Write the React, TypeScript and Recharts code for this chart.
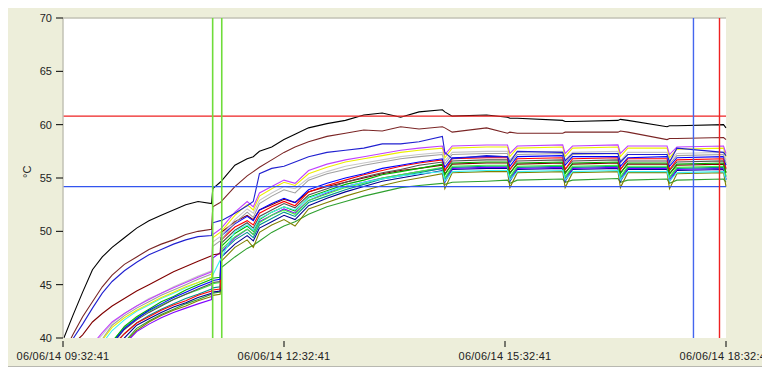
import React from "react";
import { LineChart, Line, XAxis, YAxis, CartesianGrid, ReferenceLine } from "recharts";

// minutes after 06/06/14 09:32:41
const TIMES = [
  0, 8, 16, 24, 32, 40, 50, 60, 70, 80, 90, 100, 110,
  121, 122, 128, 129,
  140, 150, 155, 160, 170, 180, 189,
  200, 215, 230, 245, 260, 275, 290,
  309, 311, 317, 345, 362, 364,
  370, 407, 409, 415,
  452, 454, 460, 492, 494, 500, 538, 540,
];

const X_TICKS = [0, 180, 360, 540];
const X_TICK_LABELS = ["06/06/14 09:32:41", "06/06/14 12:32:41", "06/06/14 15:32:41", "06/06/14 18:32:41"];
const Y_TICKS = [40, 45, 50, 55, 60, 65, 70];

const HIGH_LIMIT = 60.8;
const LOW_LIMIT = 54.2;
const GREEN_CURSORS = [121.9, 129.3];
const BLUE_CURSOR = 513.5;
const RED_CURSOR = 534.7;

const black = [
  39.8, 42.1, 44.3, 46.4, 47.6, 48.5, 49.4, 50.3, 51.0, 51.5, 52.0, 52.5, 52.8,
  52.6, 54.0, 54.6, 54.7,
  56.2, 56.8, 57.0, 57.5, 57.9, 58.6, 59.1,
  59.7, 60.1, 60.4, 60.9, 61.1, 60.7, 61.2,
  61.4, 61.2, 60.8, 60.9, 60.7, 60.6,
  60.6, 60.4, 60.3, 60.3,
  60.4, 60.5, 60.4, 59.8, 59.9, 59.9, 60.0, 59.7,
];
const brown = [
  38.5, 40.3, 42.0, 43.4, 44.8, 45.9, 46.9, 47.6, 48.3, 48.8, 49.2, 49.7, 50.0,
  50.2, 52.3, 52.7, 52.8,
  54.2, 55.2, 55.6, 56.0, 56.7, 57.4, 57.9,
  58.4, 58.9, 59.2, 59.5, 59.4, 59.8, 59.6,
  59.8, 59.7, 59.3, 59.7, 59.2, 59.3,
  59.2, 59.2, 59.3, 59.3,
  59.3, 59.4, 59.3, 58.6, 58.7, 58.7, 58.8, 58.6,
];
const blueTop = [
  37.5, 39.9, 41.3, 42.8, 44.2, 45.3, 46.3, 47.1, 47.8, 48.3, 48.8, 49.2, 49.5,
  49.6, 50.8, 51.0, 51.0,
  51.7, 52.4, 52.8, 55.4, 55.9, 56.1, 56.5,
  57.0, 57.4, 57.6, 57.8, 58.2, 58.2, 58.4,
  58.9, 57.4, 56.8, 57.1, 57.0, 56.5,
  57.5, 57.4, 56.6, 57.3,
  57.3, 56.5, 57.2, 57.2, 56.5, 57.8, 57.4, 57.1,
];
const violet = [
  37.0, 37.8, 38.6, 39.4, 40.5, 41.5, 42.3, 43.0, 43.6, 44.2, 44.7, 45.2, 45.7,
  46.2, 49.7, 50.2, 50.3,
  51.8, 52.8, 52.3, 53.6, 54.2, 54.8, 54.5,
  55.7, 56.3, 56.7, 57.0, 57.3, 57.6, 57.8,
  58.0, 57.2, 58.0, 58.1, 58.1, 57.3,
  58.0, 58.1, 57.3, 58.0,
  58.1, 57.3, 58.0, 58.0, 57.2, 57.9, 58.0, 57.3,
];
const yellow = [
  36.6, 37.4, 38.2, 39.0, 39.8, 41.0, 41.9, 42.6, 43.2, 43.8, 44.3, 44.8, 45.2,
  45.7, 49.4, 49.9, 50.0,
  51.5, 52.5, 52.0, 53.3, 54.0, 54.6, 54.3,
  55.4, 56.0, 56.5, 56.8, 57.1, 57.4, 57.6,
  57.8, 56.9, 57.8, 57.9, 57.9, 57.0,
  57.8, 57.9, 57.0, 57.8,
  57.9, 57.0, 57.8, 57.8, 56.9, 57.7, 57.8, 57.0,
];
const lightGray = [
  36.9, 37.7, 38.5, 39.3, 40.3, 41.4, 42.3, 43.0, 43.7, 44.2, 44.8, 45.3, 45.8,
  46.3, 49.0, 49.5, 49.6,
  51.1, 52.1, 51.7, 52.9, 53.6, 54.2, 54.0,
  55.0, 55.6, 56.1, 56.4, 56.7, 57.0, 57.2,
  57.4, 56.6, 57.4, 57.5, 57.5, 56.7,
  57.4, 57.5, 56.7, 57.4,
  57.5, 56.6, 57.4, 57.4, 56.6, 57.3, 57.4, 56.7,
];
const gray = [
  36.7, 37.5, 38.3, 39.1, 39.9, 41.2, 42.1, 42.8, 43.4, 44.0, 44.5, 45.0, 45.5,
  46.0, 48.6, 49.1, 49.2,
  50.8, 51.8, 51.3, 52.6, 53.3, 53.9, 53.6,
  54.8, 55.4, 55.8, 56.2, 56.5, 56.8, 57.0,
  57.2, 56.3, 57.2, 57.3, 57.3, 56.4,
  57.2, 57.3, 56.4, 57.2,
  57.3, 56.4, 57.2, 57.2, 56.3, 57.1, 57.2, 56.4,
];
const cyan = [
  36.3, 37.1, 37.9, 38.7, 39.5, 40.7, 41.7, 42.5, 43.1, 43.7, 44.2, 44.7, 45.2,
  45.7, 45.9, 47.3, 47.5,
  50.0, 50.6, 50.1, 51.2, 51.8, 52.3, 52.0,
  53.1, 53.7, 54.2, 54.6, 54.9, 55.2, 55.4,
  55.6, 54.7, 55.6, 55.7, 55.7, 54.8,
  55.6, 55.7, 54.8, 55.6,
  55.7, 54.8, 55.6, 55.6, 54.7, 55.5, 55.6, 54.8,
];
const blue = [
  35.5, 36.3, 37.1, 37.9, 38.7, 39.5, 40.9, 41.8, 42.6, 43.2, 43.8, 44.3, 44.8,
  45.3, 45.4, 45.5, 49.6,
  50.7, 51.4, 51.0, 52.0, 52.6, 53.1, 52.7,
  53.9, 54.5, 55.0, 55.4, 55.9, 56.2, 56.5,
  56.8, 56.0, 56.9, 57.0, 57.0, 56.1,
  57.0, 57.1, 56.2, 57.0,
  57.0, 56.1, 56.9, 57.0, 56.1, 56.9, 57.0, 56.2,
];
const red = [
  35.2, 36.0, 36.8, 37.6, 38.4, 39.2, 40.4, 41.4, 42.0, 42.6, 43.1, 43.5, 44.0,
  44.4, 44.5, 44.6, 49.2,
  50.4, 51.0, 50.6, 51.7, 52.3, 52.8, 52.4,
  53.7, 54.3, 54.8, 55.3, 55.7, 56.1, 56.4,
  56.7, 55.7, 56.8, 56.9, 56.9, 55.8,
  56.8, 56.9, 55.8, 56.8,
  56.9, 55.8, 56.8, 56.8, 55.8, 56.7, 56.8, 55.9,
];
const darkGray = [
  35.4, 36.2, 37.0, 37.8, 38.6, 39.4, 40.8, 41.7, 42.4, 43.0, 43.6, 44.1, 44.6,
  45.1, 45.2, 45.3, 48.9,
  50.1, 50.8, 50.3, 51.4, 52.0, 52.6, 52.2,
  53.4, 54.0, 54.6, 55.1, 55.5, 55.8, 56.2,
  56.5, 55.7, 56.6, 56.7, 56.7, 55.8,
  56.6, 56.7, 55.8, 56.6,
  56.7, 55.8, 56.6, 56.6, 55.7, 56.5, 56.6, 55.8,
];
const green = [
  35.6, 36.4, 37.2, 38.0, 38.8, 39.6, 41.1, 42.0, 42.7, 43.4, 43.9, 44.5, 45.0,
  45.5, 45.6, 45.7, 48.6,
  49.8, 50.5, 50.0, 51.1, 51.8, 52.3, 51.9,
  53.2, 53.8, 54.4, 54.8, 55.3, 55.6, 55.9,
  56.3, 55.3, 56.4, 56.5, 56.5, 55.4,
  56.4, 56.5, 55.4, 56.4,
  56.5, 55.4, 56.4, 56.4, 55.4, 56.3, 56.4, 55.5,
];
const maroon = [
  38.6, 39.4, 40.3, 41.5, 42.3, 43.0, 43.7, 44.4, 45.0, 45.6, 46.2, 46.7, 47.2,
  47.7, 47.8, 47.9, 49.9,
  50.9, 51.5, 51.1, 52.0, 52.5, 53.0, 52.7,
  53.7, 54.2, 54.6, 55.0, 55.4, 55.7, 55.9,
  56.2, 55.4, 56.3, 56.4, 56.4, 55.5,
  56.3, 56.4, 55.5, 56.3,
  56.4, 55.5, 56.3, 56.3, 55.4, 56.2, 56.3, 55.5,
];
const lightGreen = [
  35.7, 36.5, 37.3, 38.1, 38.9, 39.7, 41.0, 41.9, 42.5, 43.1, 43.6, 44.1, 44.5,
  45.0, 45.1, 45.2, 48.3,
  49.5, 50.2, 49.7, 50.8, 51.5, 52.0, 51.6,
  52.9, 53.5, 54.1, 54.5, 55.0, 55.3, 55.6,
  56.0, 55.0, 56.1, 56.2, 56.2, 55.1,
  56.1, 56.2, 55.1, 56.1,
  56.2, 55.1, 56.1, 56.1, 55.1, 56.0, 56.1, 55.2,
];
const teal = [
  35.2, 36.0, 36.8, 37.6, 38.4, 39.2, 40.4, 41.4, 42.1, 42.7, 43.2, 43.7, 44.1,
  44.6, 44.7, 44.8, 48.0,
  49.2, 49.9, 49.4, 50.6, 51.2, 51.8, 51.4,
  52.7, 53.3, 53.9, 54.4, 54.9, 55.2, 55.5,
  55.9, 54.9, 56.0, 56.1, 56.1, 55.0,
  56.0, 56.1, 55.0, 56.0,
  56.1, 55.0, 56.0, 56.0, 55.0, 55.9, 56.0, 55.1,
];
const purple = [
  34.4, 35.2, 36.0, 36.8, 37.6, 38.4, 39.4, 40.6, 41.3, 41.9, 42.4, 42.8, 43.2,
  43.6, 47.5, 48.0, 48.1,
  49.4, 50.2, 49.7, 50.9, 51.5, 52.1, 51.7,
  52.9, 53.6, 54.2, 54.6, 55.0, 55.3, 55.6,
  55.9, 54.7, 55.9, 56.0, 56.0, 54.8,
  55.9, 56.0, 54.8, 55.9,
  56.0, 54.8, 55.9, 55.9, 54.8, 55.8, 55.9, 54.9,
];
const navy = [
  35.0, 35.8, 36.6, 37.4, 38.2, 39.0, 40.0, 41.2, 41.8, 42.4, 42.9, 43.3, 43.8,
  44.2, 44.3, 44.4, 47.6,
  48.8, 49.6, 49.1, 50.3, 50.9, 51.5, 51.1,
  52.4, 53.1, 53.7, 54.2, 54.7, 55.0, 55.3,
  55.7, 54.6, 55.8, 55.9, 55.9, 54.7,
  55.8, 55.9, 54.7, 55.8,
  55.9, 54.7, 55.8, 55.8, 54.7, 55.7, 55.8, 54.8,
];
const olive = [
  34.5, 35.3, 36.1, 36.9, 37.7, 38.5, 39.5, 40.7, 41.5, 42.1, 42.6, 43.0, 43.5,
  43.9, 44.0, 44.1, 47.2,
  48.5, 49.2, 48.5, 49.9, 50.6, 51.1, 50.5,
  52.1, 52.7, 53.3, 53.8, 54.3, 54.7, 55.0,
  55.4, 54.0, 55.5, 55.6, 55.6, 54.1,
  55.5, 55.6, 54.1, 55.5,
  55.6, 54.1, 55.5, 55.5, 54.0, 55.4, 55.5, 54.2,
];
const darkGreen = [
  34.6, 35.4, 36.2, 37.0, 37.8, 38.6, 39.6, 40.9, 41.6, 42.2, 42.7, 43.2, 43.6,
  44.1, 44.2, 44.3, 46.6,
  47.6, 48.4, 48.7, 49.1, 49.9, 50.5, 50.9,
  51.6, 52.3, 52.8, 53.3, 53.7, 54.1, 54.3,
  54.5, 54.4, 54.6, 54.7, 54.8, 54.5,
  54.8, 54.9, 54.6, 54.8,
  54.95, 54.6, 54.8, 54.9, 54.5, 54.8, 54.9, 54.6,
];

// bottom of the stack first, the three upper probes last
const SERIES = [
  { key: "darkGreen", color: "#2fa02f", values: darkGreen },
  { key: "olive", color: "#808000", values: olive },
  { key: "navy", color: "#000090", values: navy },
  { key: "purple", color: "#8000ff", values: purple },
  { key: "teal", color: "#009090", values: teal },
  { key: "lightGreen", color: "#40f040", values: lightGreen },
  { key: "maroon", color: "#800000", values: maroon },
  { key: "green", color: "#00b000", values: green },
  { key: "darkGray", color: "#505050", values: darkGray },
  { key: "red", color: "#ff0000", values: red },
  { key: "blue", color: "#0000ff", values: blue },
  { key: "cyan", color: "#40f0f0", values: cyan },
  { key: "gray", color: "#a0a0a0", values: gray },
  { key: "lightGray", color: "#c8c8c8", values: lightGray },
  { key: "yellow", color: "#eeee00", values: yellow },
  { key: "violet", color: "#c040ff", values: violet },
  { key: "blueTop", color: "#2020d0", values: blueTop },
  { key: "brown", color: "#7a2525", values: brown },
  { key: "black", color: "#000000", values: black },
];

const rows = TIMES.map((t, i) => {
  const row: Record<string, number> = { t };
  SERIES.forEach((s) => {
    row[s.key] = s.values[i];
  });
  return row;
});

const FONT = "'Liberation Sans', Arial, sans-serif";

const TimeTick = ({ x, y, payload }: any) => {
  const label = X_TICK_LABELS[X_TICKS.indexOf(payload.value)];
  return (
    <g>
      <line x1={x} x2={x} y1={y - 6} y2={y} stroke="#000" />
      <text x={x} y={y + 13} textAnchor="middle" fontSize={11} fontFamily={FONT} fill="#222" letterSpacing={0.25}>
        {label}
      </text>
    </g>
  );
};

export default function App() {
  return (
    <div
      style={{
        position: "relative",
        left: -1,
        top: -3,
        width: 763,
        height: 361,
        background: "#edeeda",
        borderBottom: "1px solid #b8b8b0",
      }}
    >
      <LineChart width={763} height={361} data={rows} margin={{ top: 13, right: 44, bottom: 0, left: 0 }}>
        <CartesianGrid fill="#ffffff" horizontal={false} vertical={false} />
        <XAxis
          type="number"
          dataKey="t"
          domain={[0, 540]}
          ticks={X_TICKS}
          height={28}
          axisLine={false}
          tickLine={false}
          tickSize={9}
          tickMargin={0}
          tick={<TimeTick />}
        />
        <YAxis
          type="number"
          domain={[40, 70]}
          ticks={Y_TICKS}
          allowDataOverflow
          width={56}
          axisLine={{ stroke: "#c2c2b4", strokeWidth: 1.5 }}
          tickLine={{ stroke: "#000" }}
          tickSize={7}
          tickMargin={4}
          tick={{ fontSize: 11, fontFamily: FONT, fill: "#222" }}
          label={{ value: "°C", angle: -90, position: "insideLeft", offset: 20, fontSize: 11, fontFamily: FONT, fill: "#222" }}
        />
        <ReferenceLine y={70} stroke="#c2c2b4" strokeWidth={1.5} />
        {SERIES.map((s) => (
          <Line
            key={s.key}
            dataKey={s.key}
            type="linear"
            stroke={s.color}
            strokeWidth={1.1}
            dot={false}
            activeDot={false}
            isAnimationActive={false}
          />
        ))}
        <ReferenceLine y={HIGH_LIMIT} stroke="#ee2222" strokeWidth={1.2} />
        <ReferenceLine y={LOW_LIMIT} stroke="#3355ee" strokeWidth={1.2} />
        {GREEN_CURSORS.map((x) => (
          <ReferenceLine key={x} x={x} stroke="#6fdc3a" strokeWidth={1.6} />
        ))}
        <ReferenceLine x={BLUE_CURSOR} stroke="#4466ee" strokeWidth={1.4} />
        <ReferenceLine x={RED_CURSOR} stroke="#ee2222" strokeWidth={1.4} />
      </LineChart>
    </div>
  );
}
